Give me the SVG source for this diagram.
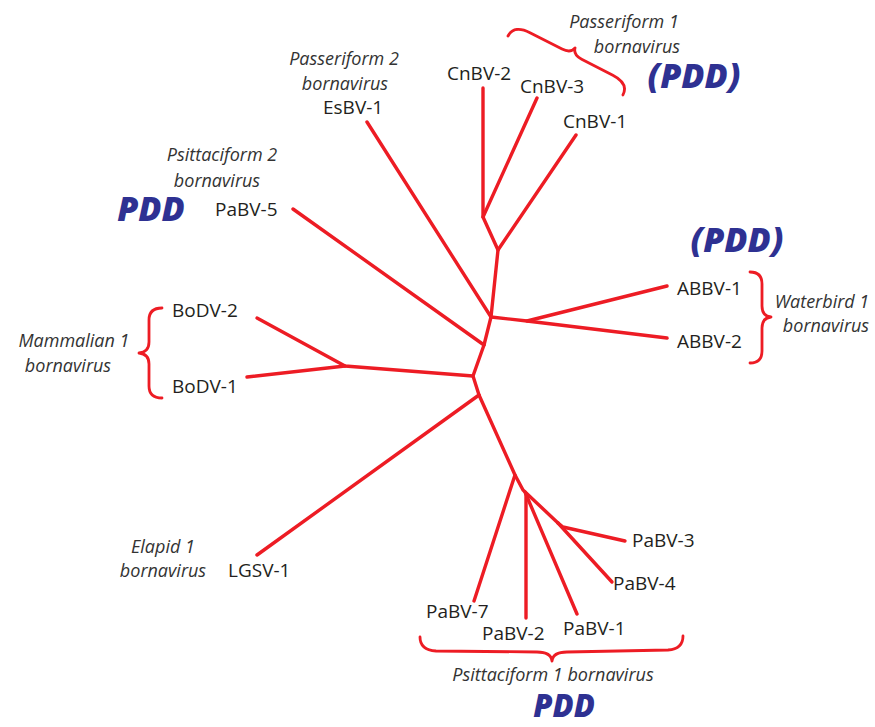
<svg xmlns="http://www.w3.org/2000/svg" width="875" height="727" viewBox="0 0 875 727">
<style>
.br{fill:none;stroke:#ED1C24;stroke-width:3.4;stroke-linecap:round;stroke-linejoin:round}
.bc{fill:none;stroke:#ED1C24;stroke-width:2.8;stroke-linecap:round;stroke-linejoin:round}
.lb{font-family:"Open Sans","Noto Sans","Liberation Sans",sans-serif;font-size:19px;fill:#231F20}
.it{font-family:"Open Sans","Noto Sans","Liberation Sans",sans-serif;font-size:18px;font-style:italic;fill:#333}
.pdd{font-family:"Open Sans","Noto Sans","Liberation Sans",sans-serif;font-size:34px;font-style:italic;font-weight:800;fill:#2E3192}
</style>
<rect width="875" height="727" fill="#fff"/>
<g id="connectors">
<path class="br" d="M483,88 L483,217 L498,250 L491,317 L484,345 L473,376 L479,395 L515,475 L523,490 L558,523"/>
<path class="br" d="M483,217 L537,98"/>
<path class="br" d="M498,250 L576,135"/>
<path class="br" d="M367,122 L491,317"/>
<path class="br" d="M491,317 L527,321 L667,286"/>
<path class="br" d="M527,321 L667,338"/>
<path class="br" d="M293,209 L484,345"/>
<path class="br" d="M473,376 L345,366 L257,318"/>
<path class="br" d="M345,366 L247,377"/>
<path class="br" d="M479,395 L257,555"/>
<path class="br" d="M515,475 L474,601"/>
<path class="br" d="M526,494 L526,618"/>
<path class="br" d="M525,492 L577,614"/>
<path class="br" d="M558,523 L563,527 L625,541"/>
<path class="br" d="M558,523 L612,582"/>
</g>
<g id="brace-passeriform1"><path class="bc" transform="matrix(0.891,0.457,0.457,-0.891,508,36)" d="M0,0 C0,9 7,13 18,13 L54,13 C60,13 64,15 65,20 C66,15 70,13 76,13 L111,13 C122,13 129,9 129,0"/></g>
<g id="brace-mammalian"><path class="bc" d="M162,308 Q149,308 149,320 L149,342 Q149,352 139,353 Q149,354 149,364 L149,386 Q149,398 162,398"/></g>
<g id="brace-waterbird"><path class="bc" d="M750,272 Q762,272 762,284 L762,306 Q762,316 771,317 Q762,318 762,328 L762,351 Q762,363 750,363"/></g>
<g id="brace-psittaciform1"><path class="bc" d="M420,637 Q420,650 436,651 L537,652 Q551,652 552,661 Q553,652 567,652 L668,650 Q683,649 683,636"/></g>
<g id="CnBV-2"><text class="lb" x="447" y="80">CnBV-2</text></g>
<g id="CnBV-3"><text class="lb" x="520" y="93">CnBV-3</text></g>
<g id="CnBV-1"><text class="lb" x="563" y="128">CnBV-1</text></g>
<g id="passeriform1-label"><text class="it" x="624" y="28" text-anchor="middle">Passeriform 1</text><text class="it" x="637" y="53" text-anchor="middle">bornavirus</text><text class="pdd" x="694" y="88" text-anchor="middle">(PDD)</text></g>
<g id="EsBV-1"><text class="it" x="344" y="65" text-anchor="middle">Passeriform 2</text><text class="it" x="345" y="90" text-anchor="middle">bornavirus</text><text class="lb" x="323" y="114">EsBV-1</text></g>
<g id="PaBV-5"><text class="it" x="222" y="161" text-anchor="middle">Psittaciform 2</text><text class="it" x="217" y="187" text-anchor="middle">bornavirus</text><text class="pdd" x="151" y="221" text-anchor="middle">PDD</text><text class="lb" x="215" y="216">PaBV-5</text></g>
<g id="ABBV"><text class="pdd" x="737" y="252" text-anchor="middle">(PDD)</text><text class="lb" x="677" y="295">ABBV-1</text><text class="lb" x="677" y="348">ABBV-2</text><text class="it" x="822" y="308" text-anchor="middle">Waterbird 1</text><text class="it" x="826" y="332" text-anchor="middle">bornavirus</text></g>
<g id="BoDV"><text class="lb" x="172" y="317">BoDV-2</text><text class="lb" x="172" y="393">BoDV-1</text><text class="it" x="74" y="347" text-anchor="middle">Mammalian 1</text><text class="it" x="68" y="372" text-anchor="middle">bornavirus</text></g>
<g id="LGSV-1"><text class="it" x="163" y="553" text-anchor="middle">Elapid 1</text><text class="it" x="163" y="577" text-anchor="middle">bornavirus</text><text class="lb" x="228" y="577">LGSV-1</text></g>
<g id="PaBV-3"><text class="lb" x="632" y="547">PaBV-3</text></g>
<g id="PaBV-4"><text class="lb" x="613" y="590">PaBV-4</text></g>
<g id="PaBV-7"><text class="lb" x="426" y="618">PaBV-7</text></g>
<g id="PaBV-2"><text class="lb" x="482" y="640">PaBV-2</text></g>
<g id="PaBV-1"><text class="lb" x="563" y="635">PaBV-1</text></g>
<g id="psittaciform1-label"><text class="it" x="553" y="681" text-anchor="middle">Psittaciform 1 bornavirus</text><text class="pdd" x="564" y="717" text-anchor="middle" style="font-size:31px">PDD</text></g>
</svg>
